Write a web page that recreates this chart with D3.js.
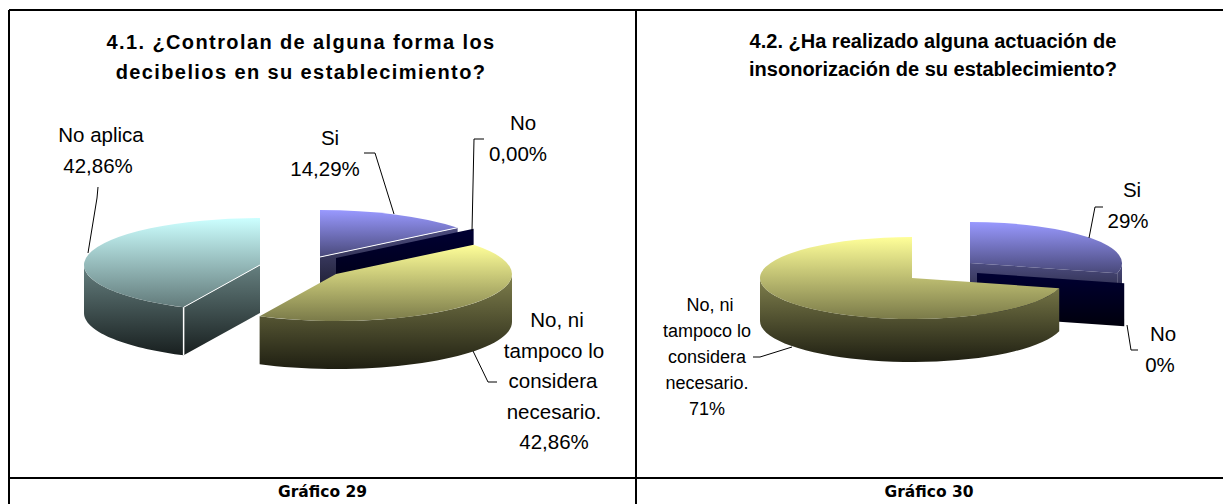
<!DOCTYPE html>
<html>
<head>
<meta charset="utf-8">
<script src="https://cdn.jsdelivr.net/npm/d3@7"></script>
<style>
  html, body { margin: 0; padding: 0; background: #fff; overflow: hidden; }
  svg { display: block; }
  text { font-family: "Liberation Sans", Arial, sans-serif; fill: #000; }
</style>
</head>
<body>
<div id="chart"></div>
<script>
// Data
const titles1 = ["4.1. ¿Controlan de alguna forma los", "decibelios en su establecimiento?"];
const categories1 = [["Si"], ["No"], ["No, ni", "tampoco lo", "considera", "necesario."], ["No aplica"]];
const values1 = [14.29, 0, 42.86, 42.86];
const caption1 = "Gráfico 29";

const titles2 = ["4.2. ¿Ha realizado alguna actuación de", "insonorización de su establecimiento?"];
const categories2 = [["Si"], ["No"], ["No, ni", "tampoco lo", "considera", "necesario."]];
const values2 = [29, 0, 71];
const caption2 = "Gráfico 30";

const colors1 = ["#9999ff", "#000066", "#ffff99", "#ccffff"];
const colors2 = ["#9999ff", "#000066", "#ffff99"];

const width = 1223, height = 504;

const svg = d3.select("#chart").append("svg")
    .attr("width", width)
    .attr("height", height);

const defs = svg.append("defs");
const shade = (c, t) => d3.interpolateRgb(c, "#000")(t);

// Vertical gradients for the top of a slice and for its side wall
function addGradient(id, c, from, to) {
  const g = defs.append("linearGradient").attr("id", id)
      .attr("x1", 0).attr("y1", 0).attr("x2", 0).attr("y2", 1);
  g.append("stop").attr("offset", "0%").attr("stop-color", shade(c, from));
  g.append("stop").attr("offset", "100%").attr("stop-color", shade(c, to));
}
d3.range(4).forEach(i => {
  addGradient("top" + i, colors1[i], 0, 0.52);
  addGradient("wall" + i, colors1[i], 0.5, 0.88);
});

const pie = d3.pie().sort(null).value(d => d);

function drawPie(g, values, colors, o) {
  const arcs = pie.startAngle(0).endAngle(2 * Math.PI)(values);
  const ratio = o.ry / o.rx;
  const arc = d3.arc().innerRadius(0).outerRadius(o.rx);

  arcs.forEach((d, i) => {
    const [cx, cy] = o.centers[i];
    const px = a => cx + o.rx * Math.sin(a);
    const py = a => cy - o.ry * Math.cos(a);
    const slice = g.append("g");

    // radial faces, only the ones turned to the viewer
    const face = a => {
      const p = d3.path();
      p.moveTo(cx, cy);
      p.lineTo(px(a), py(a));
      p.lineTo(px(a), py(a) + o.depth);
      p.lineTo(cx, cy + o.depth);
      p.closePath();
      slice.append("path").attr("d", p.toString()).attr("fill", `url(#wall${i})`);
    };
    if (Math.sin(d.endAngle) > 0.01) face(d.endAngle);
    if (-Math.sin(d.startAngle) > 0.01) face(d.startAngle);

    // outer wall, front half of the rim only
    const a0 = Math.max(d.startAngle, Math.PI / 2), a1 = Math.min(d.endAngle, 1.5 * Math.PI);
    if (a1 > a0) {
      const rim = d3.range(0, 41).map(k => a0 + (a1 - a0) * k / 40);
      const pts = rim.map(a => [px(a), py(a)])
          .concat(rim.slice().reverse().map(a => [px(a), py(a) + o.depth]));
      slice.append("path")
          .attr("d", d3.line()(pts) + "Z")
          .attr("fill", `url(#wall${i})`);
    }

    if (d.endAngle > d.startAngle) {
      slice.append("path")
          .attr("d", arc(d))
          .attr("transform", `translate(${cx},${cy}) scale(1,${ratio})`)
          .attr("fill", `url(#top${i})`);
    }

    // white seams between the faces
    if (o.seams[i] !== undefined) {
      const a = o.seams[i] === "end" ? d.endAngle : d.startAngle;
      slice.append("line").attr("x1", cx).attr("y1", cy).attr("x2", px(a)).attr("y2", py(a))
          .attr("stroke", "#fff").attr("stroke-width", 1);
      if (o.seams[i] === "start") {
        slice.append("line").attr("x1", px(a)).attr("y1", py(a)).attr("x2", px(a)).attr("y2", py(a) + o.depth)
            .attr("stroke", "#fff").attr("stroke-width", 1.5);
      }
    }
  });
}

function drawLabels(g, categories, values, format, layout, size, lineHeight) {
  categories.forEach((lines, i) => {
    const l = layout[i];
    const all = lines.concat([format(values[i])]);
    all.forEach((t, k) => {
      g.append("text")
          .attr("x", l.x[k])
          .attr("y", l.y + k * lineHeight)
          .attr("text-anchor", "middle")
          .attr("font-size", size)
          .text(t);
    });
    g.append("path")
        .attr("d", d3.line()(l.leader))
        .attr("fill", "none")
        .attr("stroke", "#000")
        .attr("stroke-width", 1);
  });
}

function drawTitle(g, lines, cx, ys, size, spacing) {
  lines.forEach((t, k) => {
    g.append("text")
        .attr("x", cx)
        .attr("y", ys[k])
        .attr("text-anchor", "middle")
        .attr("font-size", size)
        .attr("font-weight", "bold")
        .attr("letter-spacing", spacing)
        .text(t);
  });
}

const fmt2 = v => v.toFixed(2).replace(".", ",") + "%";
const fmt0 = v => v.toFixed(0) + "%";

// Left panel
const left = svg.append("g");
drawTitle(left, titles1, 301, [49, 79], 20, 1.4);
drawPie(left, values1, colors1, {
  rx: 176, ry: 47, depth: 48,
  centers: [[320, 257], [336, 258], [336, 274], [260, 265]],
  seams: [ "end", undefined, undefined, "start" ]
});
drawLabels(left, categories1, values1, fmt2, [
  { x: [330, 325], y: 145, leader: [[364, 153], [375, 153], [394, 214]] },
  { x: [523, 518], y: 130, leader: [[484, 139], [474, 139], [472, 231]] },
  { x: [557, 554, 553, 554, 554], y: 327, leader: [[473, 351], [488, 382], [497, 382]] },
  { x: [101, 98], y: 142, leader: [[98, 187], [97, 198], [88, 253]] }
], 20.5, 30.5);

// Right panel
const right = svg.append("g");
drawTitle(right, titles2, 933, [48, 76], 20, 0);
drawPie(right, values2, colors2, {
  rx: 152, ry: 41, depth: 43,
  centers: [[970, 263], [977, 273], [912, 278]],
  seams: []
});
drawLabels(right, categories2.slice(0, 2), values2.slice(0, 2), fmt0, [
  { x: [1132, 1128], y: 197, leader: [[1103, 207], [1095, 207], [1089, 238]] },
  { x: [1163, 1160], y: 341, leader: [[1127, 325], [1131, 350], [1138, 350]] }
], 20.5, 30.5);
drawLabels(right, categories2.slice(2), values2.slice(2), fmt0, [
  { x: [710, 707, 707, 707, 707], y: 311, leader: [[753, 357], [760, 357], [792, 347]] }
], 18, 26);

// Table borders
const borders = [
  [[9, 10], [1223, 10]],
  [[9, 478], [1223, 478]],
  [[9, 10], [9, 504]],
  [[636, 10], [636, 504]]
];
svg.append("g").selectAll("path").data(borders).enter().append("path")
    .attr("d", d3.line())
    .attr("stroke", "#000")
    .attr("stroke-width", 2)
    .attr("shape-rendering", "crispEdges");

// Captions
[[caption1, 322.5], [caption2, 929]].forEach(([t, x]) => {
  svg.append("text")
      .attr("x", x)
      .attr("y", 497)
      .attr("text-anchor", "middle")
      .attr("font-size", 15.5)
      .attr("font-weight", "bold")
      .style("font-family", "'DejaVu Sans', sans-serif")
      .text(t);
});
</script>
</body>
</html>
